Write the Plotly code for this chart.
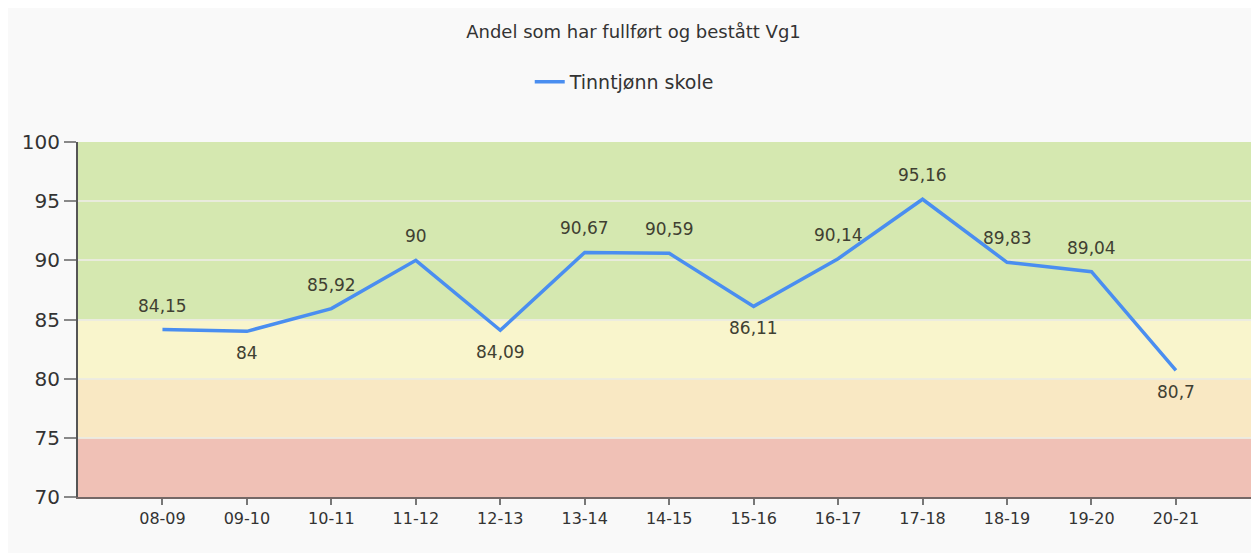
import plotly.graph_objects as go

categories = ["08-09", "09-10", "10-11", "11-12", "12-13", "13-14", "14-15",
              "15-16", "16-17", "17-18", "18-19", "19-20", "20-21"]
values = [84.15, 84, 85.92, 90, 84.09, 90.67, 90.59, 86.11, 90.14, 95.16, 89.83, 89.04, 80.7]
value_labels = ["84,15", "84", "85,92", "90", "84,09", "90,67", "90,59", "86,11",
                "90,14", "95,16", "89,83", "89,04", "80,7"]
label_sides = ["above", "below", "above", "above", "below", "above", "above",
               "below", "above", "above", "above", "above", "below"]
series_name = "Tinntjønn skole"
title_text = "Andel som har fullført og bestått Vg1"
band_edges = [70, 75, 80, 85, 100]
band_colors = ["#f0c1b6", "#f9e8c3", "#f9f5cc", "#d5e8b0"]
y_ticks = [70, 75, 80, 85, 90, 95, 100]

FONT = "DejaVu Sans"
W, H = 1251, 545  # page adds an 8px body margin

fig = go.Figure()
fig.add_trace(go.Scatter(
    x=list(range(len(categories))), y=values, mode="lines",
    name=series_name,
    line=dict(color="#4a8ef0", width=3.5),
))

annotations = []
for i, (v, lab, side) in enumerate(zip(values, value_labels, label_sides)):
    annotations.append(dict(
        x=i, y=v, xref="x", yref="y", text=lab, showarrow=False,
        yshift=24 if side == "above" else -22,
        font=dict(size=17, color="#404032", family=FONT),
    ))

shapes = []
for i in range(len(band_colors)):
    shapes.append(dict(type="rect", xref="paper", yref="y", x0=0, x1=1,
                       y0=band_edges[i], y1=band_edges[i + 1],
                       fillcolor=band_colors[i], line=dict(width=0), layer="below"))

fig.update_layout(
    width=W, height=H,
    paper_bgcolor="#f9f9f9", plot_bgcolor="#f9f9f9",
    margin=dict(l=70, r=2, t=134, b=56),
    font=dict(family=FONT, color="#333333"),
    title=dict(text=title_text, x=0.5, xref="container", xanchor="center",
               y=1 - 24 / H, yref="container", yanchor="middle",
               font=dict(size=18, color="#333333", family=FONT)),
    showlegend=True,
    legend=dict(orientation="h", x=0.493, xref="container", xanchor="center",
                y=1 - 74 / H, yref="container", yanchor="middle",
                font=dict(size=19, color="#333333", family=FONT),
                bgcolor="rgba(0,0,0,0)"),
    shapes=shapes,
    annotations=annotations,
    xaxis=dict(
        range=[-1, 12.96], tickmode="array", tickvals=list(range(len(categories))),
        ticktext=categories, showgrid=False, zeroline=False,
        showline=True, linecolor="#756866", linewidth=2,
        ticks="outside", ticklen=6, tickcolor="#777777", tickwidth=2,
        tickfont=dict(size=16, color="#333333", family=FONT),
    ),
    yaxis=dict(
        range=[70, 100], tickmode="array", tickvals=y_ticks,
        showgrid=True, gridcolor="rgba(235,235,225,0.9)", gridwidth=2,
        zeroline=False, showline=True, linecolor="#555555", linewidth=2,
        ticks="outside", ticklen=12, tickcolor="#888888", tickwidth=2,
        tickfont=dict(size=20, color="#333333", family=FONT),
    ),
)

fig.write_html("out.html")
